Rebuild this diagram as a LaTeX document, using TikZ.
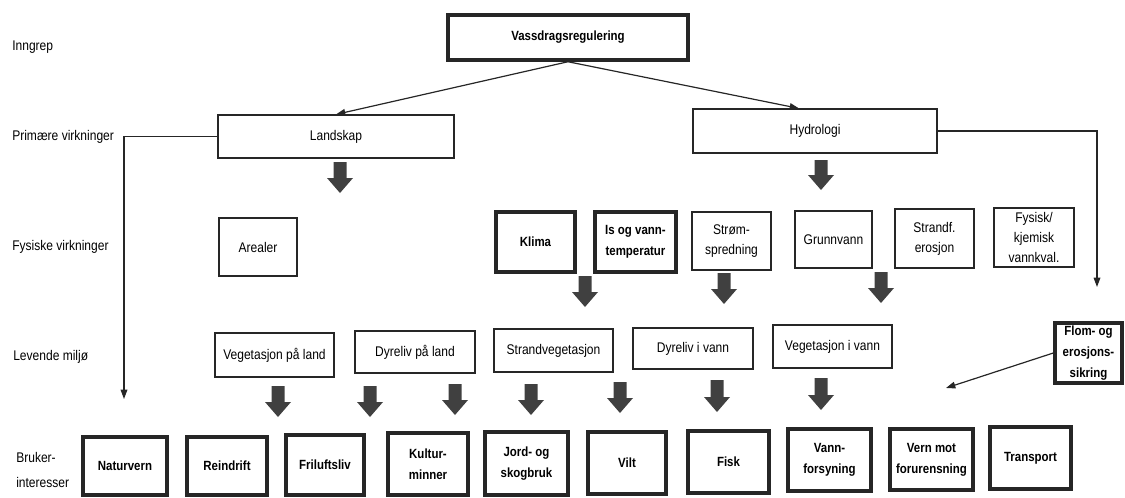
\documentclass[tikz,border=0pt]{standalone}
\usepackage{fontspec}
\setmainfont{Liberation Sans}[FakeStretch=0.86]
\usetikzlibrary{arrows.meta}

% fat block arrow: x, top, tip
\newcommand\blokkpil[3]{%
  \fill[pilgraa] (#1-6.5,#2) -- (#1+6.5,#2) -- (#1+6.5,#3-15) -- (#1+13,#3-15) -- (#1,#3) -- (#1-13,#3-15) -- (#1-6.5,#3-15) -- cycle;}

\begin{document}
\begin{tikzpicture}[x=0.75pt,y=0.75pt,yscale=-1,xscale=1,
  tynnboks/.style={draw=black!85, line width=0.9pt, align=center, inner sep=1pt, font=\fontsize{10.5}{15}\selectfont},
  tykkboks/.style={draw=black!85, line width=2.6pt, align=center, inner sep=1pt, font=\fontsize{10}{16}\selectfont\bfseries},
  etikett/.style={anchor=west, inner sep=0pt, align=left, font=\fontsize{10.5}{19}\selectfont},
  tynnpil/.style={draw=black!85, line width=0.9pt, -{Triangle[length=7pt,width=5pt]}},
  pilgraa/.style={fill=black!75},
  dim/.style 2 args={minimum width=#1*0.75pt, minimum height=#2*0.75pt}]
\useasboundingbox (0,0) rectangle (1125,497);

% Row labels
\node[etikett] (inngrep) at (12,47) {Inngrep};
\node[etikett] (primaere) at (12,137) {Primære virkninger};
\node[etikett] (fysiske) at (12,247) {Fysiske virkninger};
\node[etikett] (levende) at (13,357) {Levende miljø};
\node[etikett] (bruker) at (16,470) {Bruker-\\interesser};

% Inngrep
\node[tykkboks, dim={240}{45}] (vassdrag) at (568,37.5) {Vassdragsregulering};

% Primaere virkninger
\node[tynnboks, dim={236}{43}] (landskap) at (336,136.5) {Landskap};
\node[tynnboks, dim={244}{44}] (hydrologi) at (815,131) {Hydrologi};

% Fysiske virkninger
\node[tynnboks, dim={78}{58}] (arealer) at (258,247) {Arealer};
\node[tykkboks, dim={79}{60}] (klima) at (535.5,242) {Klima};
\node[tykkboks, dim={81}{60}] (istemp) at (635.5,242) {Is og vann-\\temperatur};
\node[tynnboks, dim={79}{58}] (strom) at (731.5,241) {Strøm-\\spredning};
\node[tynnboks, dim={77}{57}] (grunnvann) at (833.5,239.5) {Grunnvann};
\node[tynnboks, dim={79}{59}] (strandf) at (934.5,238.5) {Strandf.\\erosjon};
\node[tynnboks, dim={80}{59}] (fysisk) at (1034,237.5) {Fysisk/\\kjemisk\\vannkval.};

% Levende miljoe
\node[tynnboks, dim={119}{44}] (vegland) at (274.5,355) {Vegetasjon på land};
\node[tynnboks, dim={120}{42}] (dyrland) at (415,352) {Dyreliv på land};
\node[tynnboks, dim={119}{43}] (strandveg) at (553.5,350.5) {Strandvegetasjon};
\node[tynnboks, dim={120}{41}] (dyrvann) at (693,348.5) {Dyreliv i vann};
\node[tynnboks, dim={119}{43}] (vegvann) at (832.5,346.5) {Vegetasjon i vann};
\node[tykkboks, dim={67}{60}] (flom) at (1088.5,353) {Flom- og\\erosjons-\\sikring};

% Brukerinteresser
\node[tykkboks, dim={84}{58}] (naturvern) at (125,466) {Naturvern};
\node[tykkboks, dim={80}{58}] (reindrift) at (227,466) {Reindrift};
\node[tykkboks, dim={78}{60}] (friluft) at (325,465) {Friluftsliv};
\node[tykkboks, dim={80}{62}] (kultur) at (428,464) {Kultur-\\minner};
\node[tykkboks, dim={83}{63}] (jord) at (526.5,463.5) {Jord- og\\skogbruk};
\node[tykkboks, dim={78}{62}] (vilt) at (627,463) {Vilt};
\node[tykkboks, dim={81}{62}] (fisk) at (728.5,462) {Fisk};
\node[tykkboks, dim={83}{62}] (vannfors) at (829.5,460) {Vann-\\forsyning};
\node[tykkboks, dim={83}{61}] (vern) at (931.5,459.5) {Vern mot\\forurensning};
\node[tykkboks, dim={81}{62}] (transport) at (1030.5,458) {Transport};

% thin connectors
\coordinate (lhjorne) at (124,136.5);
\coordinate (lende) at (124,399);
\coordinate (hhjorne) at (1097,131);
\coordinate (hende) at (1097,287);
\coordinate (flomende) at (946,388);
\draw[tynnpil] (vassdrag.south) -- (landskap.north);
\draw[tynnpil] (vassdrag.south) -- ([xshift=-12pt]hydrologi.north);
\draw[tynnpil] (landskap.west) -- (lhjorne) -- (lende);
\draw[tynnpil] (hydrologi.east) -- (hhjorne) -- (hende);
\draw[tynnpil] (flom.west) -- (flomende);

% block arrows
\blokkpil{340}{162}{193}
\blokkpil{821}{160}{190}
\blokkpil{585}{276}{307}
\blokkpil{724}{273}{304}
\blokkpil{881}{272}{303}
\blokkpil{278}{386}{417}
\blokkpil{370}{386}{417}
\blokkpil{455}{384}{415}
\blokkpil{531}{384}{415}
\blokkpil{620}{382}{413}
\blokkpil{717}{380}{412}
\blokkpil{821}{378}{410}

\end{tikzpicture}
\end{document}
